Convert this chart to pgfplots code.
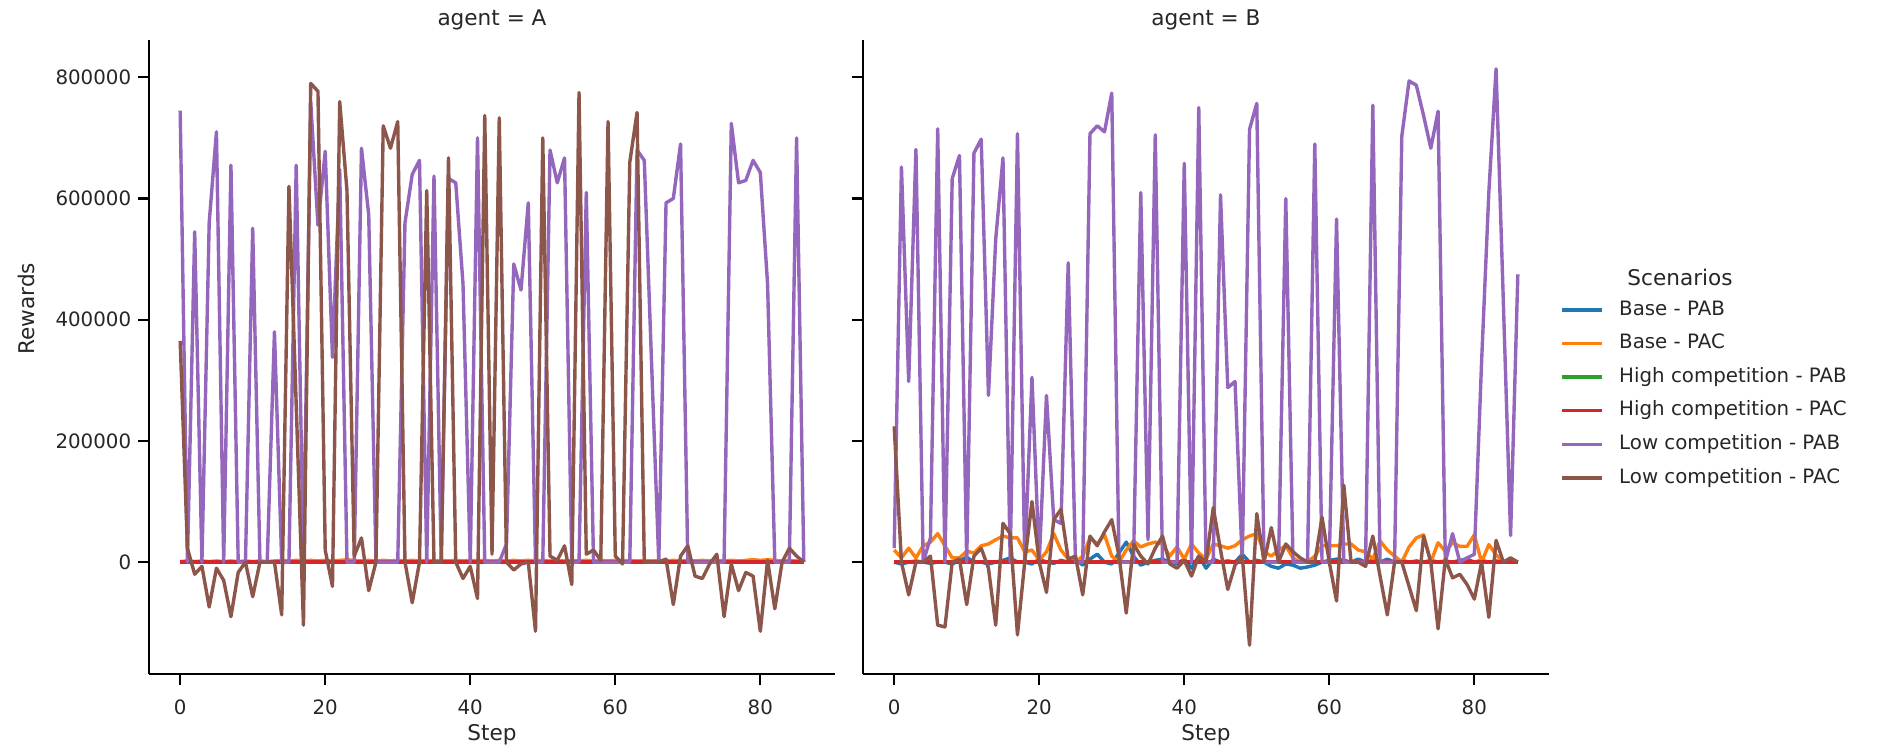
\documentclass[border=0pt]{standalone}
\usepackage{fontspec}
\setmainfont{DejaVu Sans}
\usepackage{pgfplots}
\usepackage{pgfplotstable}
\pgfplotsset{compat=1.18}

\definecolor{tabblue}{HTML}{1F77B4}
\definecolor{taborange}{HTML}{FF7F0E}
\definecolor{tabgreen}{HTML}{2CA02C}
\definecolor{tabred}{HTML}{D62728}
\definecolor{tabpurple}{HTML}{9467BD}
\definecolor{tabbrown}{HTML}{8C564B}

% agent A
\pgfplotstableread{
step bpab bpac hpab hpac lpab lpac
0 0 1000 0 0 745000 365000
1 0 2000 0 0 0 23000
2 0 1000 0 0 545000 -20000
3 0 2000 0 0 0 -7000
4 0 1000 0 0 560000 -74000
5 0 2000 0 0 710000 -10000
6 0 1000 0 0 0 -30000
7 0 2000 0 0 655000 -90000
8 0 1000 0 0 0 -17000
9 0 2000 0 0 0 0
10 0 1000 0 0 551000 -57000
11 0 2000 0 0 0 0
12 0 1000 0 0 0 0
13 0 2000 0 0 380000 0
14 0 3000 0 0 0 -87000
15 0 2000 0 0 0 620000
16 0 3000 0 0 655000 260000
17 0 2000 0 0 0 -104000
18 0 3000 0 0 760000 790000
19 0 2000 0 0 556000 777000
20 0 3000 0 0 678000 20000
21 0 2000 0 0 338000 -40000
22 0 3000 0 0 648000 760000
23 0 4000 0 0 0 613000
24 0 3000 0 0 0 10000
25 0 2000 0 0 683000 40000
26 0 3000 0 0 573000 -47000
27 0 2000 0 0 0 0
28 0 3000 0 0 0 720000
29 0 2000 0 0 0 683000
30 0 3000 0 0 0 727000
31 0 2000 0 0 560000 0
32 0 3000 0 0 640000 -67000
33 0 2000 0 0 663000 0
34 0 3000 0 0 0 613000
35 0 2000 0 0 637000 0
36 0 3000 0 0 0 0
37 0 2000 0 0 633000 667000
38 0 3000 0 0 626000 0
39 0 2000 0 0 459000 -27000
40 0 3000 0 0 0 -7000
41 0 2000 0 0 700000 -60000
42 0 3000 0 0 0 737000
43 0 2000 0 0 0 13000
44 0 3000 0 0 0 733000
45 0 2000 0 0 30000 0
46 0 3000 0 0 492000 -13000
47 0 2000 0 0 449000 -3000
48 0 3000 0 0 593000 0
49 0 2000 0 0 0 -114000
50 0 3000 0 0 0 700000
51 0 2000 0 0 680000 10000
52 0 3000 0 0 626000 3000
53 0 2000 0 0 667000 27000
54 0 3000 0 0 0 -37000
55 0 2000 0 0 0 775000
56 0 3000 0 0 610000 13000
57 0 2000 0 0 0 20000
58 0 3000 0 0 0 3000
59 0 2000 0 0 0 727000
60 0 3000 0 0 0 10000
61 0 2000 0 0 0 -3000
62 0 3000 0 0 0 660000
63 0 2000 0 0 680000 742000
64 0 3000 0 0 663000 0
65 0 2000 0 0 330000 0
66 0 3000 0 0 0 0
67 0 2000 0 0 593000 5000
68 0 3000 0 0 600000 -70000
69 0 2000 0 0 690000 10000
70 0 3000 0 0 0 27000
71 0 2000 0 0 0 -23000
72 0 3000 0 0 0 -27000
73 0 2000 0 0 0 -3000
74 0 3000 0 0 0 13000
75 0 2000 0 0 0 -90000
76 0 3000 0 0 724000 -3000
77 0 2000 0 0 626000 -47000
78 0 3000 0 0 630000 -17000
79 0 4000 0 0 663000 -23000
80 0 3000 0 0 643000 -114000
81 0 4000 0 0 459000 3000
82 0 3000 0 0 0 -77000
83 0 2000 0 0 0 0
84 0 3000 0 0 0 23000
85 0 2000 0 0 700000 10000
86 0 1000 0 0 0 0
}\agentA

% agent B
\pgfplotstableread{
step bpab bpac hpab hpac lpab lpac
0 0 20000 0 0 23000 224000
1 -3000 7000 0 0 652000 0
2 0 23000 0 0 298000 -54000
3 2000 7000 0 0 681000 0
4 0 27000 0 0 0 0
5 -2000 33000 0 0 40000 10000
6 0 47000 0 0 715000 -104000
7 0 27000 0 0 0 -107000
8 -3000 7000 0 0 633000 0
9 3000 7000 0 0 671000 5000
10 8000 18000 0 0 0 -70000
11 0 15000 0 0 675000 10000
12 0 27000 0 0 698000 23000
13 -3000 30000 0 0 275000 -10000
14 0 37000 0 0 533000 -104000
15 3000 43000 0 0 667000 64000
16 7000 40000 0 0 0 47000
17 0 40000 0 0 707000 -120000
18 0 17000 0 0 0 0
19 -3000 20000 0 0 305000 100000
20 5000 3000 0 0 0 0
21 0 17000 0 0 275000 -50000
22 -2000 47000 0 0 70000 70000
23 3000 20000 0 0 64000 87000
24 0 5000 0 0 494000 5000
25 5000 0 0 0 0 10000
26 -5000 10000 0 0 0 -54000
27 5000 40000 0 0 707000 43000
28 13000 30000 0 0 720000 27000
29 0 45000 0 0 710000 50000
30 -3000 10000 0 0 774000 70000
31 15000 0 0 0 0 10000
32 33000 20000 0 0 0 -84000
33 10000 35000 0 0 0 30000
34 -5000 25000 0 0 610000 10000
35 0 30000 0 0 37000 -3000
36 3000 33000 0 0 705000 23000
37 5000 30000 0 0 0 43000
38 0 10000 0 0 0 -3000
39 -3000 25000 0 0 0 -10000
40 5000 5000 0 0 658000 3000
41 -10000 30000 0 0 0 -23000
42 10000 15000 0 0 750000 10000
43 -10000 5000 0 0 0 0
44 5000 30000 0 0 0 90000
45 0 27000 0 0 606000 20000
46 2000 23000 0 0 288000 -45000
47 0 27000 0 0 298000 -5000
48 13000 37000 0 0 0 10000
49 0 43000 0 0 714000 -137000
50 3000 47000 0 0 757000 80000
51 0 17000 0 0 0 0
52 -7000 10000 0 0 0 57000
53 -10000 20000 0 0 0 0
54 -3000 27000 0 0 600000 30000
55 -5000 7000 0 0 0 17000
56 -10000 0 0 0 0 7000
57 -8000 0 0 0 0 0
58 -5000 10000 0 0 690000 0
59 0 27000 0 0 0 74000
60 3000 27000 0 0 0 0
61 5000 27000 0 0 566000 -64000
62 3000 30000 0 0 0 127000
63 0 30000 0 0 0 0
64 5000 20000 0 0 0 0
65 0 17000 0 0 0 -7000
66 3000 5000 0 0 754000 43000
67 0 35000 0 0 0 -23000
68 5000 20000 0 0 0 -87000
69 0 10000 0 0 0 0
70 3000 0 0 0 703000 0
71 0 25000 0 0 794000 -40000
72 2000 40000 0 0 787000 -80000
73 0 45000 0 0 737000 43000
74 3000 0 0 0 683000 0
75 0 32000 0 0 744000 -110000
76 2000 18000 0 0 0 5000
77 0 32000 0 0 47000 -26000
78 3000 26000 0 0 0 -20000
79 5000 26000 0 0 7000 -37000
80 0 45000 0 0 13000 -61000
81 3000 0 0 0 330000 0
82 0 29000 0 0 610000 -91000
83 2000 12000 0 0 814000 36000
84 0 0 0 0 430000 0
85 3000 5000 0 0 44000 7000
86 0 0 0 0 475000 0
}\agentB

\pgfplotsset{
  facet/.style={
    scale only axis, width=343pt, height=317pt,
    anchor=south west,
    xmin=-4.3, xmax=90.3, ymin=-184600, ymax=861600,
    axis x line*=bottom, axis y line*=left,
    axis line style={line width=1.1pt, -},
    tick align=outside, major tick length=5.4pt,
    tick style={line width=1.1pt, black},
    xtick={0,20,40,60,80}, ytick={0,200000,400000,600000,800000},
    scaled y ticks=false,
    yticklabel style={/pgf/number format/fixed, /pgf/number format/1000 sep={}},
    xticklabel style={yshift=-4pt},
    /pgf/number format/assume math mode=true,
    tick label style={font=\fontsize{9.9}{11}\selectfont, text=black!85},
    label style={font=\fontsize{10.8}{12}\selectfont, text=black!85},
    title style={font=\fontsize{10.8}{12}\selectfont, text=black!85,
      at={(axis description cs:0.5,1)}, anchor=center, yshift=4pt},
    xlabel={Step},
    xlabel style={at={(axis description cs:0.5,-0.095)}, anchor=center},
    no markers,
    every axis plot/.append style={line width=1.7pt, line join=round},
  }
}

\begin{document}
\begin{tikzpicture}
\path[use as bounding box] (0,0) rectangle (949pt,372pt);

\begin{axis}[facet, at={(74.5pt,35pt)}, title={agent = A},
  ylabel={Rewards},
  ylabel style={at={(axis description cs:-0.178,0.576)}, anchor=center}]
\addplot[tabblue] table[x=step, y=bpab] {\agentA};
\addplot[taborange] table[x=step, y=bpac] {\agentA};
\addplot[tabgreen] table[x=step, y=hpab] {\agentA};
\addplot[tabred] table[x=step, y=hpac] {\agentA};
\addplot[tabpurple] table[x=step, y=lpab] {\agentA};
\addplot[tabbrown] table[x=step, y=lpac] {\agentA};
\end{axis}

\begin{axis}[facet, at={(431.5pt,35pt)}, title={agent = B},
  yticklabel=\empty,
  legend cell align=left,
  legend style={draw=none, fill=none, inner sep=0pt,
    at={(1.016,0.590)}, anchor=north west,
    font=\fontsize{9.9}{11}\selectfont, text=black!85,
    row sep=7.2pt, column sep=7.9pt,
    nodes={inner sep=0pt, text height=7.4pt, text depth=2.2pt}},
  legend image code/.code={\draw[#1, line width=1.7pt] (0pt,0pt) -- (19.8pt,0pt);}]
\addplot[tabblue] table[x=step, y=bpab] {\agentB};
\addlegendentry{Base - PAB}
\addplot[taborange] table[x=step, y=bpac] {\agentB};
\addlegendentry{Base - PAC}
\addplot[tabgreen] table[x=step, y=hpab] {\agentB};
\addlegendentry{High competition - PAB}
\addplot[tabred] table[x=step, y=hpac] {\agentB};
\addlegendentry{High competition - PAC}
\addplot[tabpurple] table[x=step, y=lpab] {\agentB};
\addlegendentry{Low competition - PAB}
\addplot[tabbrown] table[x=step, y=lpac] {\agentB};
\addlegendentry{Low competition - PAC}
\end{axis}

\node[font=\fontsize{10.8}{12}\selectfont, text=black!85] at (840pt,233.5pt) {Scenarios};
\end{tikzpicture}
\end{document}
